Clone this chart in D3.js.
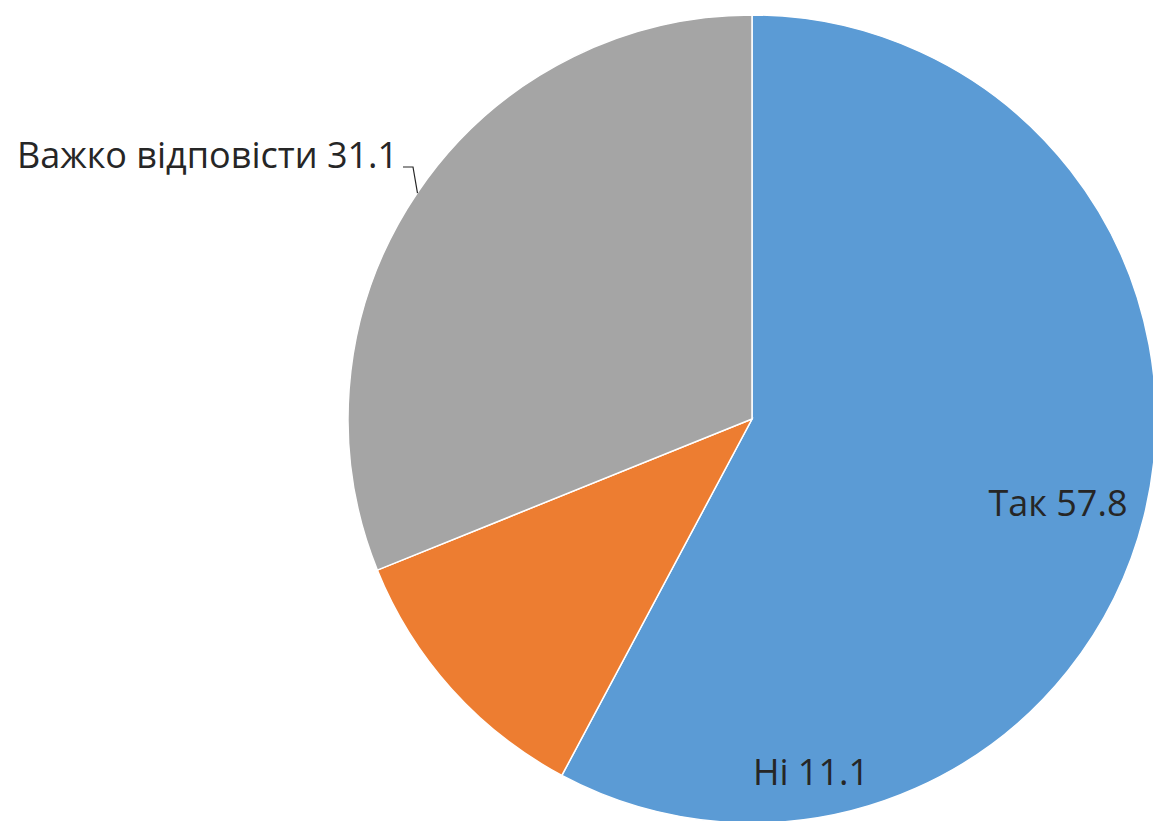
<!DOCTYPE html>
<html>
<head>
<meta charset="utf-8">
<script src="https://cdn.jsdelivr.net/npm/d3@7"></script>
<style>
  body { margin: 0; background: #fff; }
  text { font-family: "Open Sans", "Liberation Sans", sans-serif; fill: #262626; }
</style>
</head>
<body>
<div id="chart"></div>
<script>
// Chart data
const labels = ["Так", "Ні", "Важко відповісти"];
const values = [57.8, 11.1, 31.1];
const colors = ["#5b9bd5", "#ed7d31", "#a5a5a5"];

const width = 1153;
const height = 821;
const cx = 752, cy = 419, radius = 404;

const svg = d3.select("#chart")
    .append("svg")
    .attr("width", width)
    .attr("height", height);

const slices = labels.map((l, i) => ({ label: l, value: values[i], color: colors[i] }));

const pie = d3.pie()
    .value(d => d.value)
    .sort(null);

const arc = d3.arc()
    .innerRadius(0)
    .outerRadius(radius);

const arcs = pie(slices);

const g = svg.append("g")
    .attr("transform", `translate(${cx},${cy})`);

g.selectAll("path")
    .data(arcs)
    .enter().append("path")
    .attr("d", arc)
    .attr("fill", d => d.data.color)
    .attr("stroke", "#fff")
    .attr("stroke-width", 1.5);

// Label positions (relative to centre)
const labelPos = [
    { x: 306, y: 97, anchor: "middle" },
    { x: 59, y: 366, anchor: "middle" },
    { x: -735, y: -251, anchor: "start" }
];

g.selectAll("text.lbl")
    .data(arcs)
    .enter().append("text")
    .attr("class", "lbl")
    .attr("x", (d, i) => labelPos[i].x)
    .attr("y", (d, i) => labelPos[i].y)
    .attr("text-anchor", (d, i) => labelPos[i].anchor)
    .attr("font-size", 36)
    .text(d => `${d.data.label} ${d.data.value}`);

// Leader line for the grey slice
const grey = arcs[2];
const mid = (grey.startAngle + grey.endAngle) / 2;
const edgeX = Math.sin(mid) * radius * 0.999;
const edgeY = -Math.cos(mid) * radius * 0.999;
g.append("polyline")
    .attr("points", [[-349, -252], [-339, -252], [edgeX, edgeY]].map(p => p.join(",")).join(" "))
    .attr("fill", "none")
    .attr("stroke", "#262626")
    .attr("stroke-width", 1.2);
</script>
</body>
</html>
